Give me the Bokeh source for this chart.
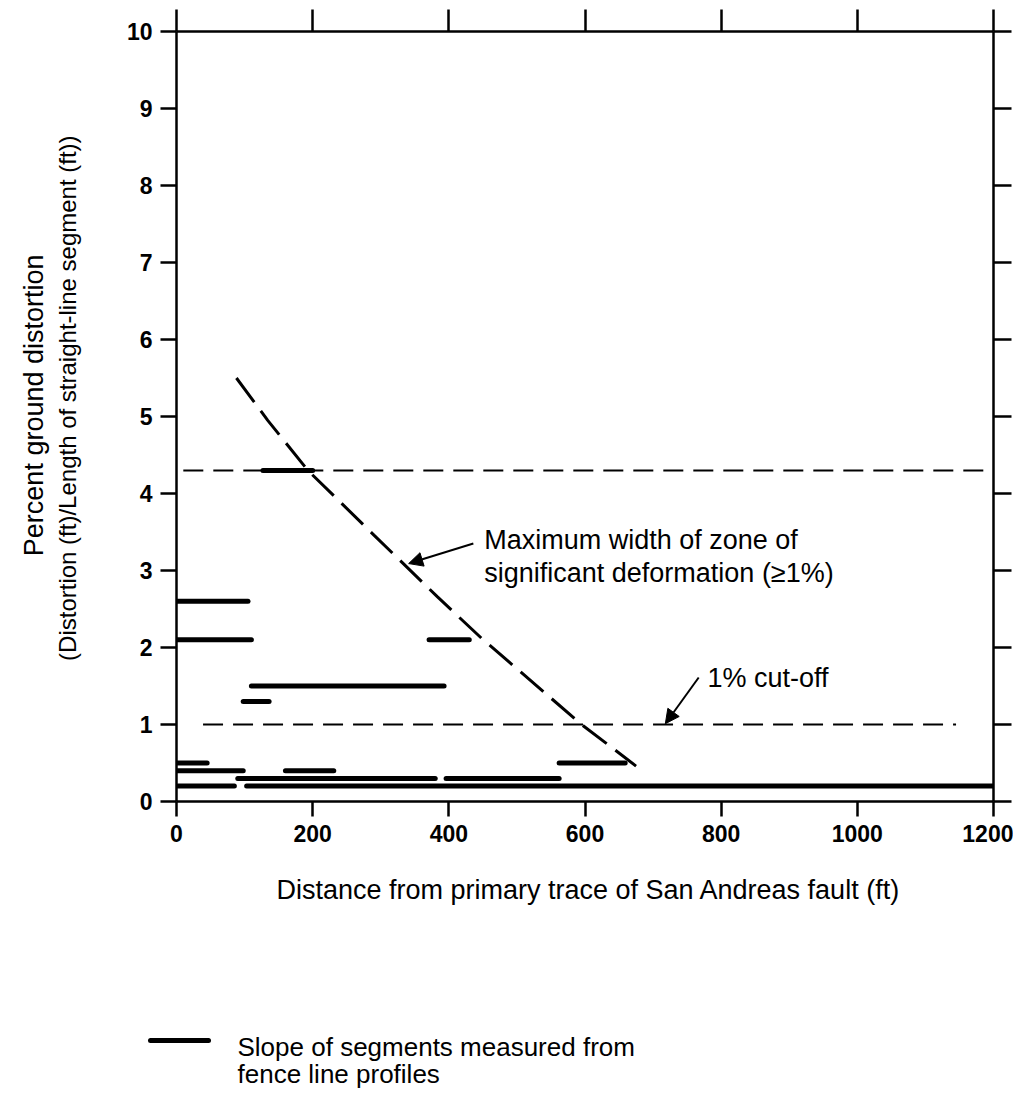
import math
from bokeh.plotting import figure
from bokeh.layouts import row, column
from bokeh.models import FixedTicker, LinearAxis, Range1d, Label, Arrow, NormalHead, ColumnDataSource
from bokeh.core.properties import value
from bokeh.embed import file_html
from bokeh.resources import INLINE

# ---- data ----
seg_x0 = [0, 0, 371, 110, 98, 127, 0, 0, 160, 90, 396, 562, 2, 103]
seg_x1 = [105, 110, 430, 393, 136, 200, 45, 98, 231, 380, 562, 659, 85, 1200]
seg_y = [2.6, 2.1, 2.1, 1.5, 1.3, 4.3, 0.5, 0.4, 0.4, 0.3, 0.3, 0.5, 0.2, 0.2]

zone_x = [88, 134, 193, 290, 383, 448, 595, 675]
zone_y = [5.5, 4.95, 4.3, 3.46, 2.66, 2.12, 1.0, 0.46]

upper_level = 4.3
upper_x = [10, 1200]
cutoff_level = 1.0
cutoff_x = [39, 1145]

x_ticks = [0, 200, 400, 600, 800, 1000, 1200]
y_ticks = [0, 1, 2, 3, 4, 5, 6, 7, 8, 9, 10]

x_title = "Distance from primary trace of San Andreas fault (ft)"
y_titles = ["Percent ground distortion",
            "(Distortion (ft)/Length of straight-line segment (ft))"]
zone_text = ["Maximum width of zone of", "significant deformation (\u22651%)"]
cutoff_text = "1% cut-off"
legend_text = ["Slope of segments measured from", "fence line profiles"]

FONT = "Liberation Sans"
TXT = "27px"

LEFT_W = 100
MAIN_W = 913
MAIN_H = 861
BOT_H = 232

# ---------------- main plot ----------------
p = figure(width=MAIN_W, height=MAIN_H, x_range=Range1d(0, 1200), y_range=Range1d(0, 10),
           output_backend="svg", toolbar_location=None,
           min_border_left=76, min_border_right=20, min_border_top=31, min_border_bottom=60,
           x_axis_location=None, y_axis_location=None)
p.grid.visible = False
p.outline_line_color = None
p.background_fill_color = "white"
p.border_fill_color = "white"

def make_axis(ticks, out_len, show_labels):
    ax = LinearAxis(ticker=FixedTicker(ticks=ticks))
    ax.axis_line_width = 2.5
    ax.axis_line_color = "black"
    ax.major_tick_line_width = 2.5
    ax.major_tick_out = out_len
    ax.major_tick_in = 0
    ax.minor_tick_out = 0
    ax.minor_tick_in = 0
    if show_labels:
        ax.major_label_text_font = FONT
        ax.major_label_text_font_size = "23px"
        ax.major_label_text_font_style = "bold"
        ax.major_label_text_color = "black"
        ax.major_label_standoff = 8
    else:
        ax.major_label_overrides = {t: "" for t in ticks}
        ax.major_label_text_font_size = "1px"
        ax.major_label_standoff = 0
    return ax

p.add_layout(make_axis(x_ticks, 15, True), "below")
p.add_layout(make_axis(y_ticks, 16, True), "left")
p.add_layout(make_axis(x_ticks, 22, False), "above")
p.add_layout(make_axis(y_ticks, 18, False), "right")

# dashed reference lines
p.line(upper_x, [upper_level] * len(upper_x), line_color="black", line_width=2, line_dash="20 10")
p.line(cutoff_x, [cutoff_level] * len(cutoff_x), line_color="black", line_width=2, line_dash="20 10")
p.line(zone_x, zone_y, line_color="black", line_width=3, line_dash="30 11")

# measured segments
src = ColumnDataSource(dict(x0=seg_x0, x1=seg_x1, y=seg_y))
p.segment(x0="x0", y0="y", x1="x1", y1="y", source=src, line_color="black",
          line_width=5, line_cap="round")

# annotations
for i, t in enumerate(zone_text):
    p.add_layout(Label(x=452, y=3.39 - 0.42 * i, text=t, text_font=FONT, text_font_size=TXT,
                       text_color="black", text_baseline="alphabetic", text_align="left"))
p.add_layout(Arrow(end=NormalHead(size=14, fill_color="black", line_color="black", line_width=1),
                   x_start=436, y_start=3.35, x_end=341, y_end=3.09, line_width=2, line_color="black"))

p.add_layout(Label(x=780, y=1.60, text=cutoff_text, text_font=FONT, text_font_size=TXT,
                   text_color="black", text_baseline="alphabetic", text_align="left"))
p.add_layout(Arrow(end=NormalHead(size=14, fill_color="black", line_color="black", line_width=1),
                   x_start=767, y_start=1.61, x_end=718, y_end=1.01, line_width=2, line_color="black"))

# ---------------- left strip: y-axis title ----------------
pl = figure(width=LEFT_W, height=MAIN_H, x_range=Range1d(0, LEFT_W), y_range=Range1d(0, MAIN_H),
            output_backend="svg", toolbar_location=None, min_border=0,
            x_axis_location=None, y_axis_location=None)
pl.grid.visible = False
pl.outline_line_color = None
pl.text(x=[33], y=[MAIN_H - 418], text=y_titles[:1], angle=math.pi / 2,
        text_align="center", text_baseline="alphabetic", text_font=value(FONT),
        text_font_size="27px", text_color="black")
pl.text(x=[67], y=[MAIN_H - 410], text=y_titles[1:], angle=math.pi / 2,
        text_align="center", text_baseline="alphabetic", text_font=value(FONT),
        text_font_size="24px", text_color="black")

# ---------------- bottom strip: x-axis title and key ----------------
W = LEFT_W + MAIN_W
pb = figure(width=W, height=BOT_H, x_range=Range1d(0, W), y_range=Range1d(0, BOT_H),
            output_backend="svg", toolbar_location=None, min_border=0,
            x_axis_location=None, y_axis_location=None)
pb.grid.visible = False
pb.outline_line_color = None
TOP = MAIN_H + BOT_H
pb.text(x=[588], y=[TOP - 889], text=[x_title], text_align="center", text_baseline="alphabetic",
        text_font=value(FONT), text_font_size=TXT, text_color="black")
key_x = [150, 208]
pb.line(key_x, [TOP - 1040] * 2, line_color="black", line_width=5, line_cap="round")
pb.text(x=[237, 237], y=[TOP - 1046, TOP - 1073], text=legend_text, text_align="left",
        text_baseline="alphabetic", text_font=value(FONT), text_font_size="26px", text_color="black")

layout = column(row(pl, p), pb)
open("out.html", "w").write(file_html(layout, INLINE))
